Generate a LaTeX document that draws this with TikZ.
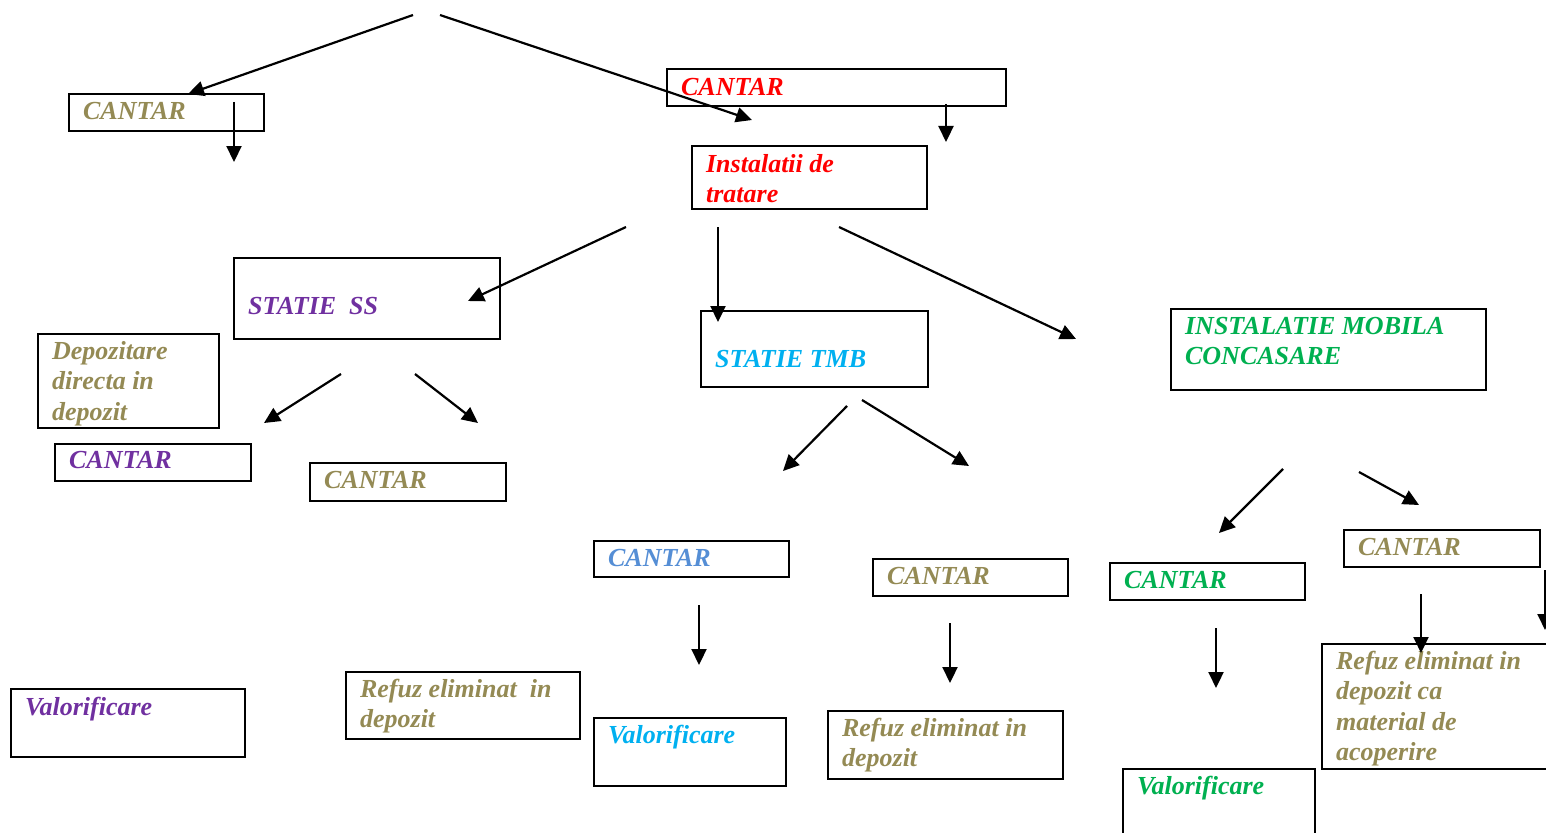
\documentclass[tikz,border=0pt]{standalone}
\usepackage{fontspec}
\setmainfont{Liberation Serif}
\usetikzlibrary{arrows.meta}
\definecolor{txtolive}{HTML}{948A54}
\definecolor{txtred}{HTML}{FF0000}
\definecolor{txtpurple}{HTML}{7030A0}
\definecolor{txtcyan}{HTML}{00B0F0}
\definecolor{txtgreen}{HTML}{00B050}
\definecolor{txtblue}{HTML}{558ED5}
\begin{document}
\begin{tikzpicture}[x=1pt,y=-1pt]
\tikzset{box/.style = {draw, line width=2.2pt, anchor=north west, inner xsep=14pt, inner ysep=0pt,
  align=flush left, font=\bfseries\itshape\fontsize{26}{30.5}\selectfont}}
\tikzset{flow/.style = {line width=2.2pt, -{Triangle[length=16pt,width=15pt]}}}
\useasboundingbox (0,0) rectangle (1546,832);
\clip (0,0) rectangle (1546,832);
% top row
\node[box, text=txtolive, text width=167pt, text height=25pt, text depth=12pt] (cantarA) at (68,93) {CANTAR};
\node[box, text=txtred, text width=311pt, text height=26pt, text depth=11pt] (cantarB) at (666,68) {CANTAR};
\node[box, text=txtred, text width=207pt, text height=26pt, text depth=37pt] (tratare) at (691,145) {Instalatii de\\tratare};
% stations
\node[box, text=txtpurple, text width=238pt, text height=56pt, text depth=25pt] (statSS) at (233,257) {STATIE\ \ SS};
\node[box, text=txtolive, text width=153pt, text height=25pt, text depth=69pt] (depdir) at (37,333) {Depozitare\\directa in\\depozit};
\node[box, text=txtcyan, text width=199pt, text height=56pt, text depth=20pt] (statTMB) at (700,310) {STATIE TMB};
\node[box, text=txtgreen, text width=287pt, text height=25pt, text depth=56pt] (concas) at (1170,308) {INSTALATIE MOBILA\\CONCASARE};
% weighing after the stations
\node[box, text=txtpurple, text width=168pt, text height=24pt, text depth=13pt] (cantarSS1) at (54,443) {CANTAR};
\node[box, text=txtolive, text width=168pt, text height=25pt, text depth=13pt] (cantarSS2) at (309,462) {CANTAR};
\node[box, text=txtblue, text width=167pt, text height=25pt, text depth=11pt] (cantarT1) at (593,540) {CANTAR};
\node[box, text=txtolive, text width=167pt, text height=25pt, text depth=12pt] (cantarT2) at (872,558) {CANTAR};
\node[box, text=txtgreen, text width=167pt, text height=25pt, text depth=12pt] (cantarM1) at (1109,562) {CANTAR};
\node[box, text=txtolive, text width=168pt, text height=25pt, text depth=12pt] (cantarM2) at (1343,529) {CANTAR};
% final destinations
\node[box, text=txtpurple, text width=206pt, text height=26pt, text depth=42pt] (valSS) at (10,688) {Valorificare};
\node[box, text=txtolive, text width=206pt, text height=25pt, text depth=42pt] (refSS) at (345,671) {Refuz eliminat\ \ in\\depozit};
\node[box, text=txtcyan, text width=164pt, text height=25pt, text depth=43pt] (valT) at (593,717) {Valorificare};
\node[box, text=txtolive, text width=207pt, text height=25pt, text depth=43pt] (refT) at (827,710) {Refuz eliminat in\\depozit};
\node[box, text=txtgreen, text width=164pt, text height=25pt, text depth=80pt] (valM) at (1122,768) {Valorificare};
\node[box, text=txtolive, text width=232pt, text height=25pt, text depth=100pt] (refM) at (1321,643) {Refuz eliminat in\\depozit ca\\material de\\acoperire};
% arrows
\foreach \n/\xa/\ya/\xb/\yb in {a/413/15/188/94, b/440/15/752/120, c/234/102/234/162, d/946/104/946/142,
    e/626/227/468/301, f/718/227/718/322, g/839/227/1076/339, h/341/374/264/423, i/415/374/478/423,
    j/847/406/783/471, k/862/400/969/466, l/1283/469/1219/533, m/1359/472/1419/505,
    n/699/605/699/665, o/950/623/950/683, p/1216/628/1216/688, q/1421/594/1421/653, r/1545/570/1545/630}{
  \coordinate (\n-s) at (\xa,\ya);
  \coordinate (\n-e) at (\xb,\yb);
  \draw[flow] (\n-s) -- (\n-e);
}
\end{tikzpicture}
\end{document}
